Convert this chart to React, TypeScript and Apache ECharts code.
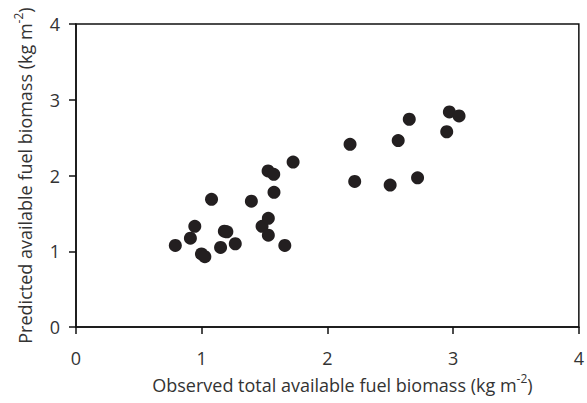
import React, { useEffect, useRef } from "react";
import * as echarts from "echarts";

const observed = [0.79, 0.91, 0.945, 0.998, 1.025, 1.078, 1.15, 1.18, 1.2, 1.267, 1.395, 1.48, 1.53, 1.53, 1.528, 1.573, 1.575, 1.661, 1.727, 2.18, 2.217, 2.499, 2.563, 2.651, 2.717, 2.949, 2.97, 3.047];
const predicted = [1.078, 1.174, 1.33, 0.965, 0.93, 1.687, 1.052, 1.265, 1.258, 1.1, 1.661, 1.33, 1.435, 1.213, 2.061, 2.017, 1.778, 1.078, 2.178, 2.413, 1.922, 1.874, 2.461, 2.743, 1.97, 2.578, 2.839, 2.787];
const xTicks = [0, 1, 2, 3, 4];
const yTicks = [0, 1, 2, 3, 4];
const xTitle = "Observed total available fuel biomass (kg m{sup|-2})";
const yTitle = "Predicted available fuel biomass (kg m{sup|-2})";

const FONT = "'Open Sans', sans-serif";
const TEXT = "#333333";

export default function App() {
  const ref = useRef<HTMLDivElement>(null);
  useEffect(() => {
    if (!ref.current) return;
    const chart = echarts.init(ref.current, undefined, { renderer: "svg" });
    const data = observed.map((x, i) => [x, predicted[i]]);
    const rich = {
      sup: { fontSize: 12, verticalAlign: "top", lineHeight: 10, fontFamily: FONT, color: TEXT },
    };
    chart.setOption({
      animation: false,
      backgroundColor: "#ffffff",
      grid: {
        left: 76,
        right: 6,
        top: 24,
        bottom: 72,
        show: true,
        borderColor: "#111",
        borderWidth: 1.5,
        backgroundColor: "transparent",
      },
      xAxis: {
        type: "value",
        min: xTicks[0],
        max: xTicks[xTicks.length - 1],
        interval: 1,
        splitLine: { show: false },
        axisLine: { show: true, onZero: false, lineStyle: { color: "#111", width: 1.5 } },
        axisTick: { show: true, inside: false, length: 7, lineStyle: { color: "#111", width: 1.5 } },
        axisLabel: { margin: 22, fontSize: 18, color: TEXT, fontFamily: FONT },
        name: xTitle,
        nameLocation: "middle",
        nameGap: 44,
        nameTextStyle: { fontSize: 18, lineHeight: 26, color: TEXT, fontFamily: FONT, rich, padding: [0, 0, 0, 30] },
      },
      yAxis: {
        type: "value",
        min: yTicks[0],
        max: yTicks[yTicks.length - 1],
        interval: 1,
        splitLine: { show: false },
        axisLine: { show: true, onZero: false, lineStyle: { color: "#111", width: 1.5 } },
        axisTick: { show: true, inside: false, length: 7, lineStyle: { color: "#111", width: 1.5 } },
        axisLabel: { margin: 16, fontSize: 18, color: TEXT, fontFamily: FONT },
        name: yTitle,
        nameLocation: "middle",
        nameGap: 38,
        nameTextStyle: { fontSize: 18, lineHeight: 26, color: TEXT, fontFamily: FONT, rich },
      },
      series: [
        {
          type: "scatter",
          data,
          symbol: "circle",
          symbolSize: 13,
          itemStyle: { color: "#231f20", opacity: 1 },
        },
      ],
    });
    return () => chart.dispose();
  }, []);
  return <div ref={ref} style={{ position: "fixed", left: 0, top: 0, width: 587, height: 403 }} />;
}
